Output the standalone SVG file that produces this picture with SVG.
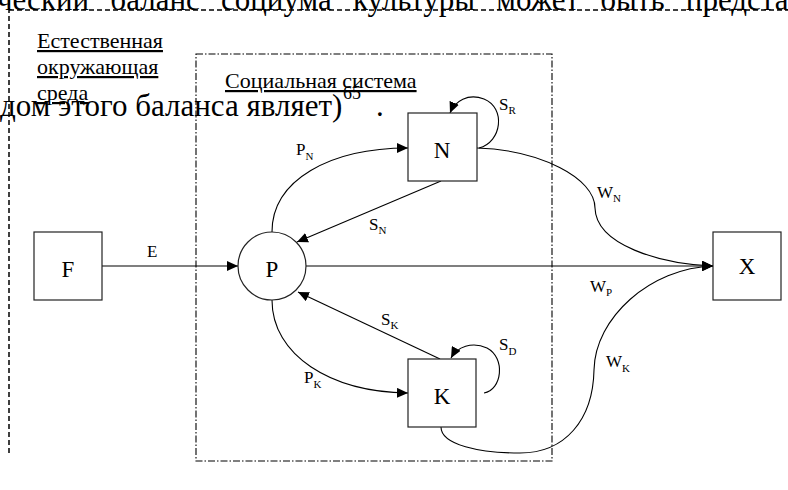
<svg xmlns="http://www.w3.org/2000/svg" width="788" height="490" viewBox="0 0 788 490">
<style>
.doc{font-family:"Liberation Serif","Times New Roman",serif;font-size:31px;fill:#000}
.ulab{font-family:"Liberation Serif","Times New Roman",serif;font-size:22px;fill:#000;text-decoration:underline}
.node{fill:#fff;stroke:#222;stroke-width:1.2}
.nl{font-family:"Liberation Serif","Times New Roman",serif;font-size:23px;fill:#000;text-anchor:middle}
.el{font-family:"Liberation Serif","Times New Roman",serif;font-size:17px;fill:#000}
.sub{font-size:11px}
.c{fill:none;stroke:#000;stroke-width:1.1}
.outer{fill:none;stroke:#000;stroke-width:1.5;stroke-dasharray:5,3}
.inner{fill:none;stroke:#000;stroke-width:1.1;stroke-dasharray:7,2,1.5,2}
</style>
<defs>
<marker id="arr" markerUnits="userSpaceOnUse" markerWidth="11" markerHeight="10" refX="11" refY="5" orient="auto">
<path d="M0,0 L11,5 L0,10 z" fill="#000"/>
</marker>
</defs>
<rect width="788" height="490" fill="#fff"/>
<g id="frames">
<line class="outer" x1="9" y1="0" x2="9" y2="456"/>
<line class="outer" x1="9" y1="10" x2="788" y2="10"/>
<rect class="inner" x="196" y="54" width="356" height="407"/>
</g>
<g id="document-text">
<text class="doc" x="-3" y="10" word-spacing="13.5">ческий баланс социума культуры может быть предста</text>
<text class="doc" x="0" y="116">дом этого баланса являет)<tspan font-size="18" x="343" dy="-17">65</tspan><tspan x="376" dy="17">.</tspan></text>
</g>
<g id="frame-labels">
<text class="ulab" x="37" y="48">Естественная</text>
<text class="ulab" x="37" y="74">окружающая</text>
<text class="ulab" x="37" y="100">среда</text>
<text class="ulab" x="225" y="88">Социальная система</text>
</g>
<g id="connectors">
<line class="c" x1="102" y1="266" x2="238" y2="266" marker-end="url(#arr)"/>
<line class="c" x1="306" y1="266" x2="713" y2="266" marker-end="url(#arr)"/>
<path class="c" d="M272,232 C272,180 330,148 408,148" marker-end="url(#arr)"/>
<line class="c" x1="441" y1="181" x2="297" y2="242" marker-end="url(#arr)"/>
<path class="c" d="M479,148 C502,142 506,108 484,99 C468,93 455,101 450,113" marker-end="url(#arr)"/>
<path class="c" d="M272,300 C272,355 330,392 408,393" marker-end="url(#arr)"/>
<line class="c" x1="440" y1="359" x2="298" y2="292" marker-end="url(#arr)"/>
<path class="c" d="M484,393 C502,390 506,358 487,348 C472,341 457,347 451,358" marker-end="url(#arr)"/>
<path class="c" d="M477,148 C540,150 595,178 595,208 C596,245 660,264 713,266" marker-end="url(#arr)"/>
<path class="c" d="M441,427 C441,445 480,453 520,453 C565,453 593,420 594,370 C595,318 650,268 713,266" marker-end="url(#arr)"/>
</g>
<g id="node-F"><rect class="node" x="34" y="232" width="68" height="68"/><text class="nl" x="68" y="277">F</text></g>
<g id="node-P"><circle class="node" cx="272" cy="266" r="34"/><text class="nl" x="272" y="277">P</text></g>
<g id="node-N"><rect class="node" x="408" y="113" width="69" height="68"/><text class="nl" x="442" y="158">N</text></g>
<g id="node-K"><rect class="node" x="408" y="359" width="68" height="68"/><text class="nl" x="442" y="404">K</text></g>
<g id="node-X"><rect class="node" x="713" y="232" width="68" height="68"/><text class="nl" x="747" y="274">X</text></g>
<g id="edge-labels">
<text class="el" x="147" y="257">E</text>
<text class="el" x="296" y="155">P<tspan class="sub" dy="5">N</tspan></text>
<text class="el" x="499" y="110">S<tspan class="sub" dy="4">R</tspan></text>
<text class="el" x="369" y="230">S<tspan class="sub" dy="4">N</tspan></text>
<text class="el" x="597" y="198">W<tspan class="sub" dy="4">N</tspan></text>
<text class="el" x="590" y="292">W<tspan class="sub" dy="4">P</tspan></text>
<text class="el" x="381" y="325">S<tspan class="sub" dy="4">K</tspan></text>
<text class="el" x="304" y="383">P<tspan class="sub" dy="5">K</tspan></text>
<text class="el" x="499" y="350">S<tspan class="sub" dy="5">D</tspan></text>
<text class="el" x="606" y="367">W<tspan class="sub" dy="5">K</tspan></text>
</g>
</svg>
